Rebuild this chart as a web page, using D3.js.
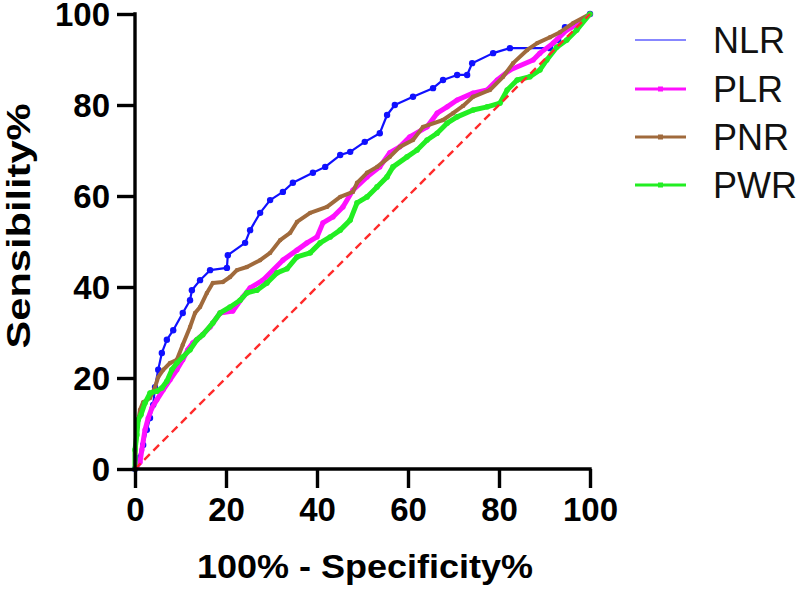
<!DOCTYPE html>
<html>
<head>
<meta charset="utf-8">
<script src="https://cdn.jsdelivr.net/npm/d3@7"></script>
<style>
  html, body { margin: 0; padding: 0; background: #fff; }
  svg { display: block; }
  text { font-family: "Liberation Sans", Arial, Helvetica, sans-serif; }
</style>
</head>
<body>
<svg id="chart" width="800" height="591"></svg>
<script>
// ---- data (100% - Specificity%, Sensitivity%) ----
const seriesNames = ["NLR", "PLR", "PNR", "PWR"];
const seriesColors = ["#1010ff", "#ff10ff", "#a06a3c", "#22ee22"];

const nlr = [
  [0,0],[0.7,2.4],[1.8,5.3],[2.6,8.6],[3.3,11.2],[4.0,14.1],[4.4,18.0],[5.1,21.8],
  [5.9,25.5],[7.0,28.4],[8.4,30.5],[10.5,34.3],[12.1,37.1],[12.5,39.3],[14.3,41.5],
  [16.5,43.7],[20.2,44.2],[20.4,47.0],[24.2,49.7],[25.3,52.5],[27.5,56.3],[29.7,59.1],
  [32.5,60.9],[34.7,62.9],[39.1,65.1],[41.8,66.4],[45.1,69.0],[47.3,69.7],[50.5,71.9],
  [53.8,73.8],[55.4,77.8],[57.1,80.0],[61.1,81.8],[65.5,83.7],[67.7,85.5],[70.8,86.6],
  [73.0,86.6],[74.1,89.2],[78.7,91.4],[82.4,92.5],[91.2,92.5],[93.0,94.3],[94.5,97.1],
  [97.1,98.0],[100,100]
];
const plr = [
  [0,0],[1.1,1.5],[1.5,4.2],[2.2,8.6],[2.9,11.2],[3.7,13.4],[4.8,15.2],[6.2,17.4],
  [7.7,19.6],[9.2,21.8],[10.5,24.0],[11.6,26.2],[12.7,27.7],[14.3,29.0],[16.5,31.2],
  [18.7,34.3],[21.5,34.7],[23.7,37.8],[25.3,39.8],[28.1,41.5],[32.5,45.9],[35.6,48.1],
  [37.8,49.7],[40.0,51.0],[41.3,54.1],[43.5,55.4],[45.7,57.6],[47.9,61.3],[51.0,64.2],
  [53.8,66.4],[56.0,69.5],[58.2,70.8],[60.4,73.0],[64.2,75.2],[66.4,78.2],[68.6,79.6],
  [70.8,81.1],[74.3,82.6],[77.4,83.3],[79.6,85.5],[82.4,87.7],[87.5,89.9],[89.0,91.4],
  [91.9,93.6],[94.9,96.5],[97.8,98.0],[100,100]
];
const pnr = [
  [0,0],[0.2,5.3],[0.4,8.6],[1.1,13.0],[1.8,14.7],[3.3,15.6],[4.4,18.0],[5.1,20.2],
  [6.2,21.8],[7.7,23.3],[9.2,24.0],[10.5,27.3],[12.1,31.2],[13.2,34.3],[14.3,35.6],
  [15.8,38.7],[17.1,40.9],[19.3,41.1],[20.9,42.2],[22.4,43.7],[24.6,44.4],[27.5,45.9],
  [29.7,47.5],[31.9,50.3],[34.1,51.9],[35.6,54.3],[38.5,56.3],[42.2,57.6],[45.1,59.8],
  [47.9,60.9],[48.8,62.9],[51.0,65.1],[53.2,66.4],[56.0,68.6],[58.2,70.8],[61.1,72.3],
  [63.3,75.2],[67.7,76.7],[69.9,78.2],[72.1,79.8],[74.3,81.8],[78.0,83.3],[80.9,86.2],
  [83.1,89.2],[86.2,92.1],[88.4,93.6],[91.2,94.9],[93.4,96.0],[96.3,98.0],[100,100]
];
const pwr = [
  [0,0],[0,4.2],[0.4,7.5],[0.7,10.8],[1.3,11.9],[2.2,14.5],[3.3,16.7],[4.8,17.1],
  [5.9,17.8],[7.0,19.3],[8.1,21.8],[9.2,23.3],[10.5,24.6],[12.1,26.2],[13.6,28.4],
  [14.9,29.5],[17.1,32.1],[18.7,34.3],[20.9,35.6],[23.1,37.1],[24.6,38.7],[26.8,39.3],
  [29.0,40.9],[31.2,43.1],[33.4,44.0],[35.6,46.6],[38.5,47.5],[40.7,49.7],[42.9,51.0],
  [45.1,52.5],[47.3,54.7],[48.8,58.5],[51.0,59.8],[53.2,62.0],[55.4,64.2],[56.7,66.4],
  [59.8,68.6],[62.0,70.1],[64.2,72.3],[66.4,73.8],[68.6,76.0],[70.8,77.4],[74.3,78.9],
  [77.4,79.6],[80.2,80.4],[81.8,83.3],[84.0,85.5],[86.8,86.2],[89.0,87.7],[90.5,89.9],
  [92.7,92.7],[94.9,94.3],[97.1,96.5],[100,100]
];
const referenceLine = [[0,0],[100,100]];
const xTicks = [0, 20, 40, 60, 80, 100];
const yTicks = [0, 20, 40, 60, 80, 100];
const xTitle = "100% - Specificity%";
const yTitle = "Sensibility%";

// ---- drawing ----
const svg = d3.select("#chart");
const x = d3.scaleLinear().domain([0, 100]).range([135, 590]);
const y = d3.scaleLinear().domain([0, 100]).range([469, 14]);

const allSeries = [nlr, plr, pnr, pwr];
const lineWidths = [2.2, 5, 4, 5];
const markerR = [3.2, 2.6, 2.2, 2.8];

const line = d3.line().x(d => x(d[0])).y(d => y(d[1]));

allSeries.forEach((data, i) => {
  const g = svg.append("g");
  g.append("path").datum(data)
    .attr("d", line)
    .attr("fill", "none")
    .attr("stroke", seriesColors[i])
    .attr("stroke-width", lineWidths[i])
    .attr("stroke-linejoin", "round");
  g.selectAll("circle").data(data).join("circle")
    .attr("cx", d => x(d[0])).attr("cy", d => y(d[1]))
    .attr("r", markerR[i]).attr("fill", seriesColors[i]);
});

// reference diagonal
svg.append("path").datum(referenceLine)
  .attr("d", line)
  .attr("fill", "none")
  .attr("stroke", "#ff2a2a")
  .attr("stroke-width", 2.4)
  .attr("stroke-dasharray", "8,5");

// axes
const xAxis = svg.append("g").attr("transform", "translate(0,469)")
  .call(d3.axisBottom(x).tickValues(xTicks).tickSize(19).tickPadding(10).tickSizeOuter(0));
const yAxis = svg.append("g").attr("transform", "translate(135,0)")
  .call(d3.axisLeft(y).tickValues(yTicks).tickSize(18).tickPadding(7).tickSizeOuter(0));

[xAxis, yAxis].forEach(a => {
  a.select(".domain").attr("stroke", "#000").attr("stroke-width", 3.4);
  a.selectAll(".tick line").attr("stroke", "#000").attr("stroke-width", 3.4);
  a.selectAll(".tick text")
    .attr("fill", "#000")
    .style("font-family", "'Liberation Sans', Arial, sans-serif")
    .style("font-size", "33px")
    .style("font-weight", "bold");
});
xAxis.selectAll(".tick text").attr("dy", "0.71em");
yAxis.selectAll(".tick text").attr("dy", "0.36em");

xAxis.select(".domain").attr("d", "M" + (x(0) - 1.7) + ",0H" + (x(100) + 1.7));
yAxis.select(".domain").attr("d", "M0," + (y(0) + 1.7) + "V" + (y(100) - 1.7));

// axis titles
svg.append("text")
  .attr("x", 365).attr("y", 578)
  .attr("text-anchor", "middle")
  .attr("textLength", 336).attr("lengthAdjust", "spacingAndGlyphs")
  .style("font-size", "33px").style("font-weight", "bold")
  .text(xTitle);

svg.append("text")
  .attr("transform", "translate(30,226) rotate(-90)")
  .attr("text-anchor", "middle")
  .attr("textLength", 245).attr("lengthAdjust", "spacingAndGlyphs")
  .style("font-size", "33px").style("font-weight", "bold")
  .text(yTitle);

// legend
const legendY = [40, 89, 137, 185];
seriesNames.forEach((name, i) => {
  const g = svg.append("g").attr("transform", `translate(0,${legendY[i]})`);
  g.append("line")
    .attr("x1", 635).attr("x2", 686).attr("y1", 0).attr("y2", 0)
    .attr("stroke", seriesColors[i])
    .attr("stroke-width", i === 0 ? 1.2 : 3);
  if (i > 0) {
    g.append("rect").attr("x", 658).attr("y", -2.5).attr("width", 5).attr("height", 5)
      .attr("fill", seriesColors[i]);
  }
  g.append("text")
    .attr("x", 713).attr("y", 13)
    .style("font-size", "36px")
    .attr("fill", "#111")
    .text(name);
});
</script>
</body>
</html>
